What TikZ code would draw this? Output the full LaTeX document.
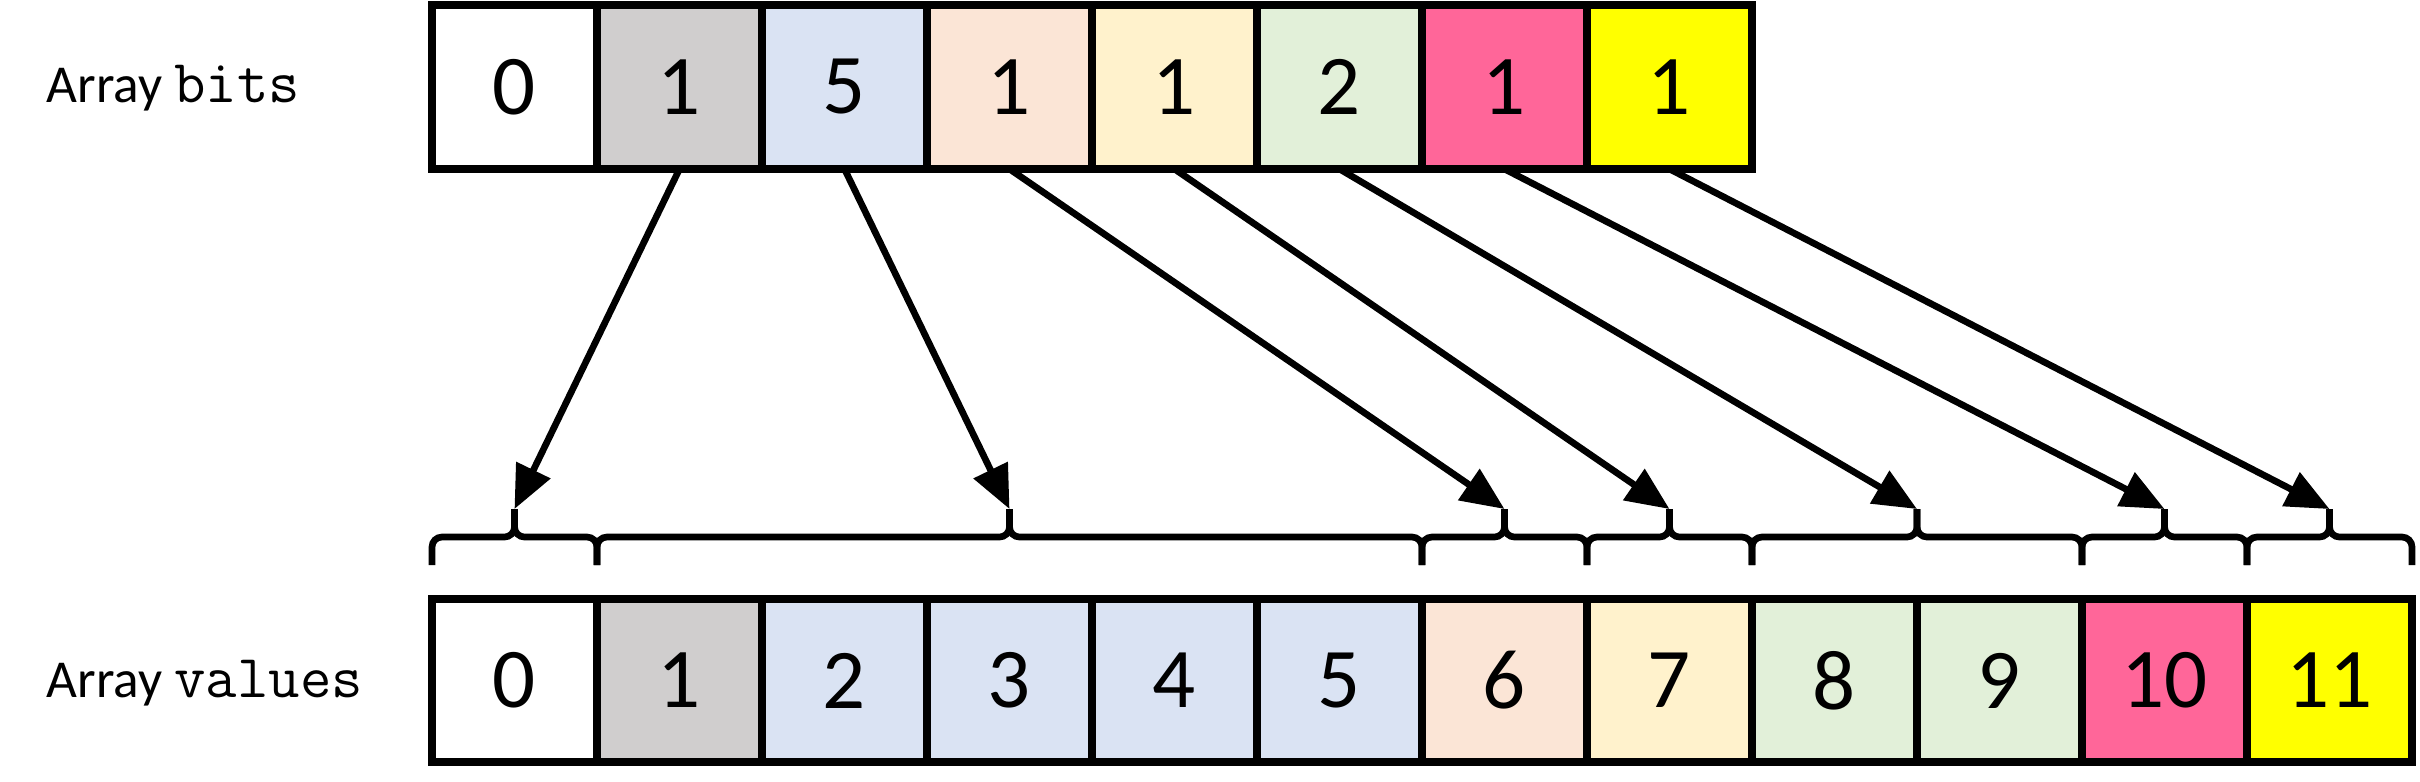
\documentclass[tikz,border=0pt]{standalone}
\usepackage{fontspec}
\setmainfont{Carlito}
\usetikzlibrary{arrows.meta}
\definecolor{cgrey}{HTML}{D0CECE}
\definecolor{cblue}{HTML}{DAE3F3}
\definecolor{cpeach}{HTML}{FBE5D6}
\definecolor{ccream}{HTML}{FFF2CC}
\definecolor{cgreen}{HTML}{E2F0D9}
\definecolor{cpink}{HTML}{FF6699}
\definecolor{cyellow}{HTML}{FFFF00}
\newcommand{\monoword}[1]{{\fontsize{18.3}{20}\selectfont\ttfamily #1}}
\begin{document}
\begin{tikzpicture}[x=0.3pt,y=-0.3pt,
  cell/.style={draw, line width=2.4pt, minimum width=49.5pt, minimum height=49.35pt,
    inner sep=0pt, outer sep=0pt, font=\fontsize{25.5}{30}\selectfont},
  vcell/.style={cell, minimum height=48.9pt},
  arr/.style={line width=2pt, -{Triangle[length=13pt,width=11pt]}},
  brc/.style={line width=2pt, rounded corners=3pt},
  lbl/.style={anchor=base west, inner sep=0pt, font=\fontsize{16}{19}\selectfont}]
\useasboundingbox (0,0) rectangle (2420,781);

% labels
\node[lbl] (lb) at (46,102) {Array \monoword{bits}};
\node[lbl] (lv) at (46,697) {Array \monoword{values}};

% bits row
\foreach \i/\v/\c in {0/0/white,1/1/cgrey,2/5/cblue,3/1/cpeach,4/1/ccream,5/2/cgreen,6/1/cpink,7/1/cyellow}
  \node[cell, fill=\c] (b\i) at ({432+165*(\i+0.5)},86.75) {\v};

% values row
\foreach \j/\c in {0/white,1/cgrey,2/cblue,3/cblue,4/cblue,5/cblue,6/cpeach,7/ccream,8/cgreen,9/cgreen,10/cpink,11/cyellow}
  \node[vcell, fill=\c] (v\j) at ({432+165*(\j+0.5)},680.5) {\j};

% braces: start/end cell boundaries, tick positions
\foreach \k/\xa/\xb in {1/432/597,2/597/1422,3/1422/1587,4/1587/1752,5/1752/2082,6/2082/2247,7/2247/2412}{
  \coordinate (t\k) at ({(\xa+\xb)/2},509);
  \draw[brc] (\xa,565) -- (\xa,537) -- ({(\xa+\xb)/2},537) -- (t\k);
  \draw[brc] (\xb,565) -- (\xb,537) -- ({(\xa+\xb)/2},537) -- (t\k);
}

% arrows
\foreach \k in {1,...,7}
  \draw[arr] (b\k.south) -- (t\k);
\end{tikzpicture}
\end{document}
